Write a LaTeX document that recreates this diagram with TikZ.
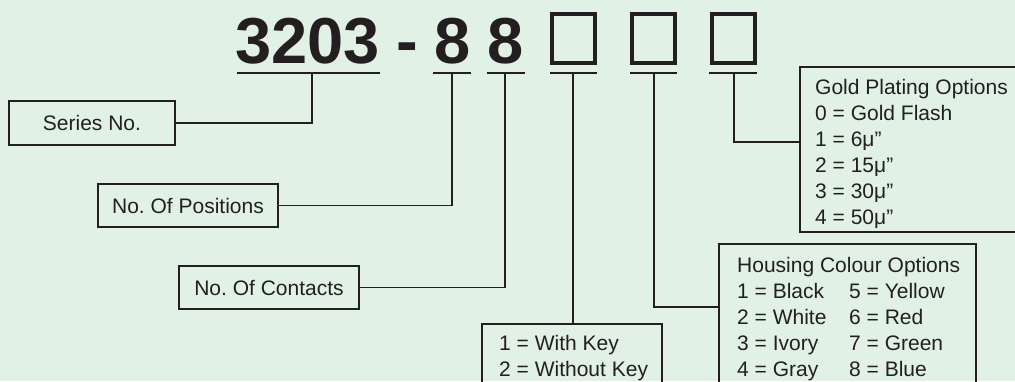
\documentclass[tikz,border=0pt]{standalone}
\usepackage{fontspec}
\setmainfont{Liberation Sans}
\usetikzlibrary{positioning}
\definecolor{cBg} {HTML}{E1F1E6}
\definecolor{cInk}{HTML}{231F20}
\tikzset{
  pnum/.style ={anchor=base,inner xsep=1.5pt,text=cInk,
                font=\fontsize{65}{70}\selectfont\bfseries},
  sqbox/.style={draw=cInk,line width=4pt,inner sep=0pt,
                minimum width=43pt,minimum height=49pt},
  uline/.style={cInk,line width=1.5pt},
  lbox/.style ={draw=cInk,line width=1.3pt,outer sep=0pt,inner sep=0pt,
                text=cInk,font=\fontsize{21}{26}\selectfont},
  obox/.style ={lbox,anchor=north west},
  otxt/.style ={anchor=north west,inner sep=0pt,align=left,text=cInk,
                font=\fontsize{21}{26}\selectfont},
  lnk/.style  ={cInk,line width=1.3pt},
}
\newcommand{\hcol}[2]{\makebox[112pt][l]{#1}#2}
\frenchspacing

\begin{document}
\begin{tikzpicture}[x=1pt,y=-1pt]
  \path[use as bounding box,fill=cBg] (0,0) rectangle (1015,381);
  \clip (0,0) rectangle (1015,381);
  % part number
  \node[pnum] (n3203) at (307.5,63) {3203};
  \node[pnum] (ndash) at (407,63) {-};
  \node[pnum] (n8a) at (453,63) {8};
  \node[pnum] (n8b) at (506,63) {8};
  \node[sqbox] (q1) at (573.5,38.5) {};
  \node[sqbox] (q2) at (653.5,38.5) {};
  \node[sqbox] (q3) at (733,38.5) {};
  \foreach \nm/\xa/\xb/\xt in {s/237/380/312, p/433/471/452, c/487/525/505,
                               k/550/597/573, h/630/677/654, g/709/757/734}
  {
    \draw[uline] (\xa,73) -- (\xb,73);
    \coordinate (t\nm) at (\xt,73);
  }
  % left labels
  \node[lbox,minimum width=166pt,minimum height=44pt] (series) at (92,123) {Series No.};
  \node[lbox,minimum width=180pt,minimum height=43pt] (posn) at (188,205.5) {No. Of Positions};
  \node[lbox,minimum width=180pt,minimum height=43pt] (cont) at (269,287.5) {No. Of Contacts};
  % option boxes
  \node[obox,minimum width=180pt,minimum height=80pt] (key) at (482,324) {};
  \node[otxt,below right=11.5pt and 17pt of key.north west] (keytxt)
       {1 = With Key\\2 = Without Key};
  \node[obox,minimum width=257pt,minimum height=150pt] (hsg) at (719,244) {};
  \node[otxt,below right=13.5pt and 18pt of hsg.north west] (hsgtxt)
       {Housing Colour Options\\\hcol{1 = Black}{5 = Yellow}\\\hcol{2 = White}{6 = Red}\\
        \hcol{3 = Ivory}{7 = Green}\\\hcol{4 = Gray}{8 = Blue}};
  \node[obox,minimum width=260pt,minimum height=165pt] (gold) at (800,67) {};
  \node[otxt,below right=12.5pt and 15pt of gold.north west] (goldtxt)
       {Gold Plating Options\\0 = Gold Flash\\1 = 6μ”\\2 = 15μ”\\3 = 30μ”\\4 = 50μ”};
  % connectors
  \draw[lnk] (ts) |- (series.east);
  \draw[lnk] (tp) |- (posn.east);
  \draw[lnk] (tc) |- (cont.east);
  \draw[lnk] (tk) -- (tk |- key.north);
  \draw[lnk] (th) |- ([yshift=-63pt]hsg.north west);
  \draw[lnk] (tg) |- ([yshift=-75pt]gold.north west);
\end{tikzpicture}
\end{document}
